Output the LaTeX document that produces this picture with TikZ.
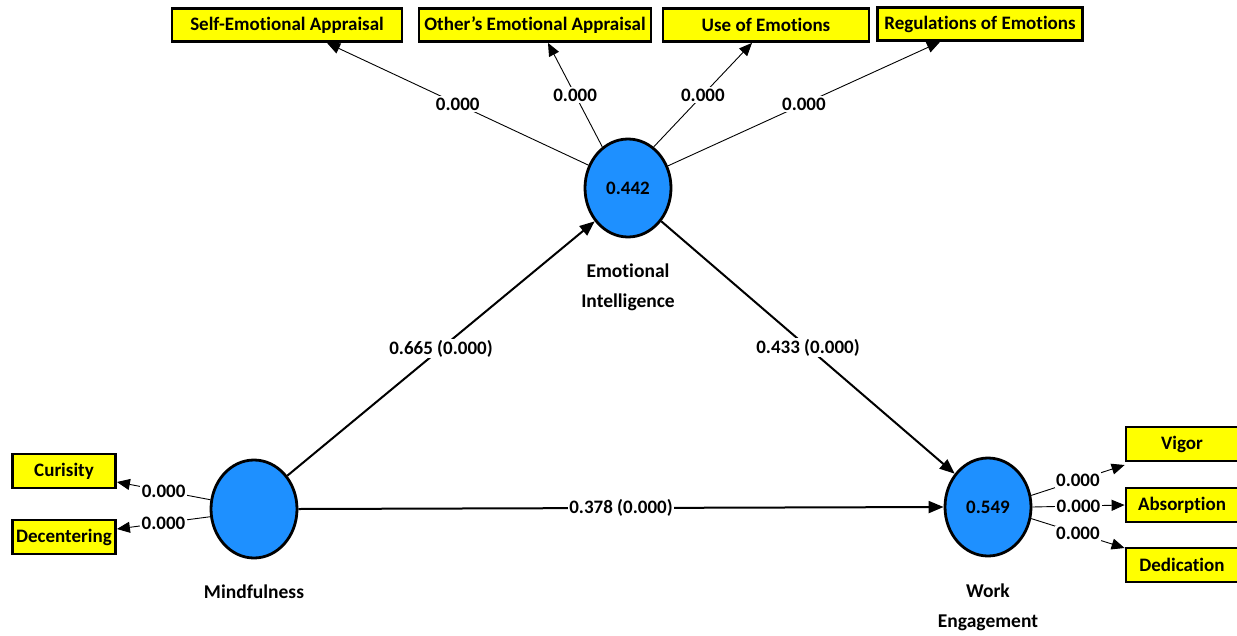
\documentclass[tikz,border=0pt]{standalone}
\usepackage{fontspec}
\setmainfont{Carlito}[Ligatures=NoCommon,RawFeature={-clig;-calt;-dlig}]
\usetikzlibrary{shapes.geometric,arrows.meta}
\definecolor{lvblue}{RGB}{30,144,255}
\definecolor{ind}{RGB}{255,255,0}
\tikzset{
  lv/.style={ellipse,draw=black,fill=lvblue,line width=2.8pt,minimum width=86pt,minimum height=98pt,inner sep=0pt,font=\bfseries\fontsize{19}{21}\selectfont},
  mv/.style={rectangle,draw=black,fill=ind,line width=2.8pt,minimum height=33pt,inner sep=0pt,font=\bfseries\fontsize{19}{21}\selectfont},
  lvname/.style={align=center,font=\bfseries\fontsize{19.5}{30}\selectfont},
  outer/.style={line width=0.9pt,-{Triangle[length=13pt,width=11pt]}},
  inner/.style={line width=2pt,-{Triangle[length=15pt,width=12pt]}},
  val/.style={fill=white,inner sep=1.5pt,font=\bfseries\fontsize{19}{21}\selectfont}
}
\begin{document}
\begin{tikzpicture}[x=1pt,y=-1pt]
\useasboundingbox (0,0) rectangle (1237,635);
% latent variables
\node[lv] (ei) at (628,188) {0.442};
\node[lv] (mind) at (254,509) {};
\node[lv] (we) at (988,507) {0.549};
\node[lvname] (einame) at (628,287) {Emotional\\Intelligence};
\node[lvname] (mindname) at (254,592) {Mindfulness};
\node[lvname] (wename) at (988,607) {Work\\Engagement};
% indicators
\node[mv,minimum width=230pt] (sea) at (287,25) {Self-Emotional Appraisal};
\node[mv,minimum width=232pt] (oea) at (535,25) {Other’s Emotional Appraisal};
\node[mv,minimum width=206pt] (uoe) at (766,25) {Use of Emotions};
\node[mv,minimum width=205pt] (roe) at (980,24) {Regulations of Emotions};
\node[mv,minimum width=103pt,minimum height=34pt] (cur) at (64,471) {Curisity};
\node[mv,minimum width=103pt,minimum height=34pt] (dec) at (64,537) {Decentering};
\node[mv,minimum width=112pt,minimum height=34pt] (vig) at (1182,444) {Vigor};
\node[mv,minimum width=112pt,minimum height=34pt] (abs) at (1182,505) {Absorption};
\node[mv,minimum width=112pt,minimum height=34pt] (ded) at (1182,565) {Dedication};
% outer loadings
\draw[outer] (ei.150) -- node[val]{0.000} ([xshift=40pt]sea.south);
\draw[outer] (ei.122) -- node[val]{0.000} ([xshift=13pt]oea.south);
\draw[outer] (ei.58) -- node[val]{0.000} ([xshift=-14pt]uoe.south);
\draw[outer] (ei.29) -- node[val]{0.000} ([xshift=-40pt]roe.south);
\draw[outer] (mind.168) -- node[val]{0.000} ([yshift=-11pt]cur.east);
\draw[outer] (mind.190) -- node[val]{0.000} ([yshift=8pt]dec.east);
\draw[outer] (we.15) -- node[val]{0.000} ([yshift=-21pt]vig.west);
\draw[outer] (we.0) -- node[val]{0.000} (abs.west);
\draw[outer] (we.-15) -- node[val]{0.000} ([yshift=17pt]ded.west);
% structural paths
\draw[inner] (mind.45) -- node[val]{0.665 (0.000)} (ei.225);
\draw[inner] (ei.-45) -- node[val]{0.433 (0.000)} (we.135);
\draw[inner] (mind.east) -- node[val]{0.378 (0.000)} (we.west);
\end{tikzpicture}
\end{document}
